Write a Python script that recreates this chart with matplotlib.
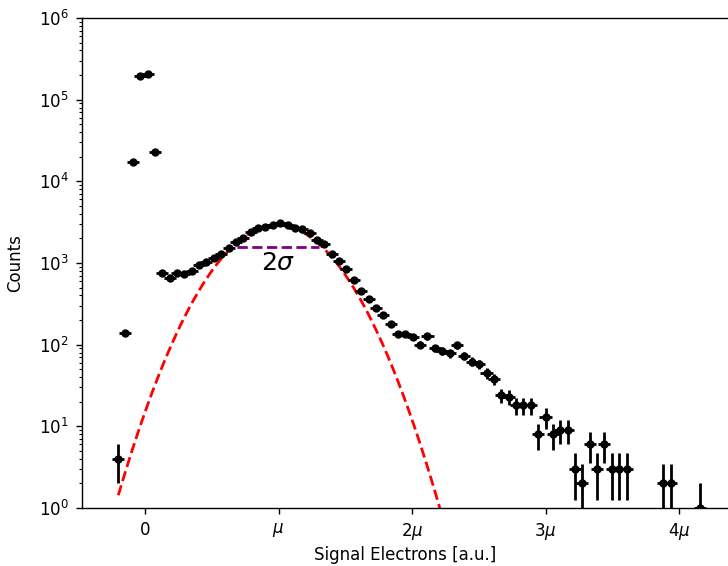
import numpy as np
import matplotlib
matplotlib.use("Agg")
import matplotlib.pyplot as plt

# bin centres in units of mu
x_centers = [-0.202, -0.147, -0.092, -0.036, 0.019, 0.074, 0.129, 0.184, 0.240, 0.295,
             0.350, 0.405, 0.460, 0.516, 0.571, 0.626, 0.681, 0.736, 0.792, 0.847,
             0.902, 0.957, 1.012, 1.068, 1.123, 1.178, 1.233, 1.288, 1.344, 1.399,
             1.454, 1.509, 1.564, 1.620, 1.675, 1.730, 1.785, 1.840, 1.896, 1.951,
             2.006, 2.061, 2.116, 2.172, 2.227, 2.282, 2.337, 2.392, 2.448, 2.503,
             2.558, 2.613, 2.668, 2.724, 2.779, 2.834, 2.889, 2.944, 3.000, 3.055,
             3.110, 3.165, 3.220, 3.276, 3.331, 3.386, 3.441, 3.496, 3.552, 3.607,
             3.883, 3.938, 4.159]
counts = [4, 140, 17300, 195000, 206000, 23000, 760, 650, 760, 730,
          805, 950, 1040, 1140, 1290, 1510, 1820, 2000, 2420, 2660,
          2790, 2920, 3060, 2950, 2700, 2580, 2310, 1910, 1690, 1290,
          1058, 838, 625, 454, 359, 279, 231, 179, 135, 135,
          125, 100, 126, 90, 84, 78, 99, 73, 62, 58,
          45, 38, 24, 23, 18, 18, 18, 8, 13, 8,
          9, 9, 3, 2, 6, 3, 6, 3, 3, 3,
          2, 2, 1]
x_halfwidth = 0.045

# gaussian fit parameters (units of mu)
fit_amp = 2900.0
fit_mu = 0.99
fit_sigma = 0.305
fit_xmin, fit_xmax = -0.2, 2.5

# 2 sigma marker
sig_y = 1557
sig_x0, sig_x1 = 0.687, 1.307

xticks = [0, 1, 2, 3, 4]
xticklabels = ['0', r'$\mu$', r'$2\mu$', r'$3\mu$', r'$4\mu$']

fig = plt.figure(figsize=(7.28, 5.66), dpi=100)
ax = fig.add_axes([82/728, 1 - 508/566, 1 - 82/728, (508 - 18)/566])

xc = np.array(x_centers)
cn = np.array(counts, dtype=float)
yerr = np.sqrt(cn)
ax.errorbar(xc, cn, yerr=yerr, xerr=x_halfwidth, fmt='o', color='black',
            markersize=5, elinewidth=2, capsize=0, zorder=3)

xx = np.linspace(fit_xmin, fit_xmax, 400)
ax.plot(xx, fit_amp * np.exp(-(xx - fit_mu)**2 / (2 * fit_sigma**2)),
        color='red', linestyle='--', linewidth=2, zorder=2)

ax.plot([sig_x0, sig_x1], [sig_y, sig_y], color='purple', linestyle='--', linewidth=2, zorder=2)
ax.text(1.0, 1000, r'$2\sigma$', fontsize=18, ha='center', va='center')

ax.set_yscale('log')
ax.set_ylim(1, 1e6)
ax.set_xlim(-0.472, 4.367)
ax.set_xticks(xticks)
ax.set_xticklabels(xticklabels)
ax.spines['right'].set_visible(False)
for s in ax.spines.values():
    s.set_linewidth(1.0)
ax.set_xlabel('Signal Electrons [a.u.]', fontsize=12, labelpad=2.5)
ax.set_ylabel('Counts', fontsize=12, labelpad=10)
ax.tick_params(which='major', labelsize=12, length=4.2, width=1.0, pad=5.5)
ax.tick_params(which='minor', length=2.4, width=0.8)
ax.xaxis.get_offset_text().set_visible(False)
ax.yaxis.get_offset_text().set_visible(False)

fig.savefig('out.png', dpi=100)
